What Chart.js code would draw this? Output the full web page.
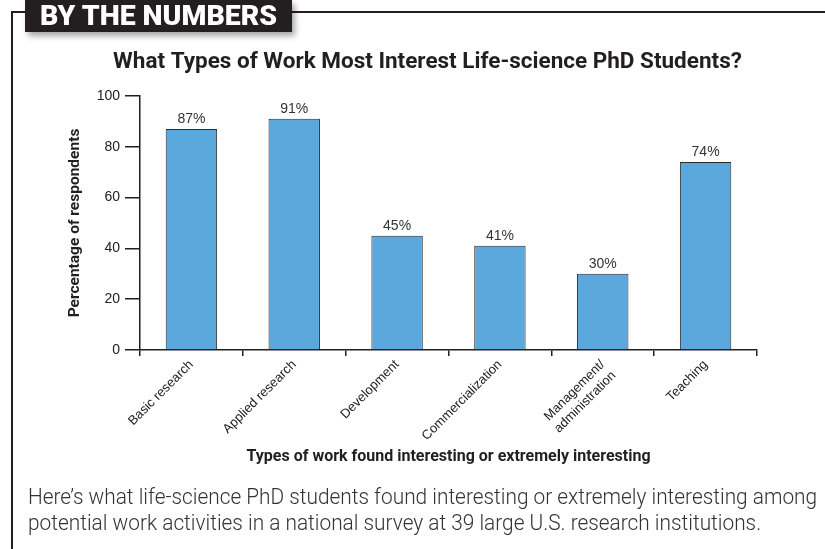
<!DOCTYPE html>
<html>
<head>
<meta charset="utf-8">
<script src="https://cdn.jsdelivr.net/npm/chart.js@4.4.1/dist/chart.umd.min.js"></script>
<style>
  html, body { margin: 0; padding: 0; background: #fff; }
  body { width: 825px; height: 549px; position: relative; overflow: hidden; }
  #chart { position: absolute; left: 0; top: 0; }
  .rule-top { position: absolute; left: 11px; top: 11px; width: 814px; height: 2px; background: #231f20; }
  .rule-left { position: absolute; left: 11px; top: 11px; width: 2px; height: 538px; background: #231f20; }
  .badge { position: absolute; left: 25px; top: 0; width: 267px; height: 32px; background: #231f20;
           box-shadow: 3px 4px 6px rgba(0,0,0,0.35); }
  .badge span { position: absolute; left: 15px; top: 1px; color: #fff; font-family: Roboto, "Liberation Sans", sans-serif;
                font-weight: 900; font-size: 27px; line-height: 30px; white-space: nowrap; transform-origin: 0 50%; display: inline-block; }
  .caption { position: absolute; left: 28px; top: 484px; color: #333; font-family: Roboto, "Liberation Sans", sans-serif;
             font-weight: 300; font-size: 22px; line-height: 26px; }
  .caption span { display: inline-block; white-space: nowrap; transform-origin: 0 50%; }
</style>
</head>
<body>
<canvas id="chart" width="825" height="549"></canvas>
<div class="rule-top"></div>
<div class="rule-left"></div>
<div class="badge"><span id="badgeText">BY THE NUMBERS</span></div>
<div class="caption">
  <span id="cap1">Here’s what life-science PhD students found interesting or extremely interesting among</span><br>
  <span id="cap2">potential work activities in a national survey at 39 large U.S. research institutions.</span>
</div>
<script>
// ---- data ----
const categories = ['Basic research', 'Applied research', 'Development', 'Commercialization', ['Management/', 'administration'], 'Teaching'];
const values = [87, 91, 45, 41, 30, 74];
const yTickValues = [0, 20, 40, 60, 80, 100];
const chartTitle = 'What Types of Work Most Interest Life-science PhD Students?';
const xTitle = 'Types of work found interesting or extremely interesting';
const yTitle = 'Percentage of respondents';

// fit HTML texts to the reference widths
(function () {
  const b = document.getElementById('badgeText');
  b.style.transform = 'scaleX(' + (237 / b.offsetWidth) + ')';
  const el1 = document.getElementById('cap1');
  const el2 = document.getElementById('cap2');
  const s = 789 / el1.offsetWidth;
  el1.style.transform = 'scaleX(' + s + ')';
  el2.style.transform = 'scaleX(' + s + ')';
})();

const barLabels = {
  id: 'barLabels',
  afterDatasetsDraw(chart) {
    const ctx = chart.ctx;
    const meta = chart.getDatasetMeta(0);
    ctx.save();
    ctx.font = '14px "Liberation Sans", Arial, sans-serif';
    ctx.fillStyle = '#333';
    ctx.textAlign = 'center';
    ctx.textBaseline = 'bottom';
    meta.data.forEach((bar, i) => {
      ctx.fillText(values[i] + '%', bar.x, bar.y - 3);
    });
    ctx.restore();
  }
};

const axisColor = '#231f20';

new Chart(document.getElementById('chart'), {
  type: 'bar',
  data: {
    labels: categories,
    datasets: [{
      data: values,
      backgroundColor: '#5aa8dc',
      borderColor: '#2b2b2b',
      borderWidth: 1,
      barPercentage: 0.5,
      categoryPercentage: 1.0
    }]
  },
  options: {
    responsive: false,
    devicePixelRatio: 1,
    animation: false,
    layout: { padding: { left: 30, right: 0, top: 38, bottom: 79 } },
    plugins: {
      legend: { display: false },
      tooltip: { enabled: false },
      title: {
        display: true,
        text: chartTitle,
        color: axisColor,
        font: { family: 'Roboto, "Liberation Sans", sans-serif', size: 22.5, weight: 'bold', lineHeight: 1.2 },
        padding: { top: 11, bottom: 20 }
      }
    },
    scales: {
      x: {
        grid: { display: true, drawOnChartArea: false, tickLength: 6, color: axisColor, lineWidth: 1.5, offset: true },
        border: { display: true, color: axisColor, width: 1.5 },
        ticks: {
          autoSkip: false, minRotation: 45, maxRotation: 45, padding: 1,
          color: '#222',
          font: { family: '"Liberation Sans", Arial, sans-serif', size: 13 }
        },
        title: {
          display: true, text: xTitle, color: axisColor,
          font: { family: 'Roboto, "Liberation Sans", sans-serif', size: 16, weight: 'bold' },
          padding: { top: 0, bottom: 3 }
        },
        afterFit(scale) { scale.height = 120; }
      },
      y: {
        min: 0, max: 100,
        afterBuildTicks(scale) { scale.ticks = yTickValues.map(v => ({ value: v })); },
        grid: { display: true, drawOnChartArea: false, tickLength: 15, color: axisColor, lineWidth: 1.5 },
        border: { display: true, color: axisColor, width: 1.5 },
        ticks: {
          padding: 5, color: '#222',
          font: { family: '"Liberation Sans", Arial, sans-serif', size: 14 }
        },
        title: {
          display: true, text: yTitle, color: axisColor,
          font: { family: 'Roboto, "Liberation Sans", sans-serif', size: 15.5, weight: 'bold' },
          padding: { top: 36, bottom: 0 }
        },
        afterFit(scale) { scale.width = 110; }
      },
      yRight: {
        position: 'right',
        display: true,
        grid: { display: false },
        border: { display: false },
        ticks: { display: false },
        afterFit(scale) { scale.width = 68; }
      }
    }
  },
  plugins: [barLabels]
});
</script>
</body>
</html>
